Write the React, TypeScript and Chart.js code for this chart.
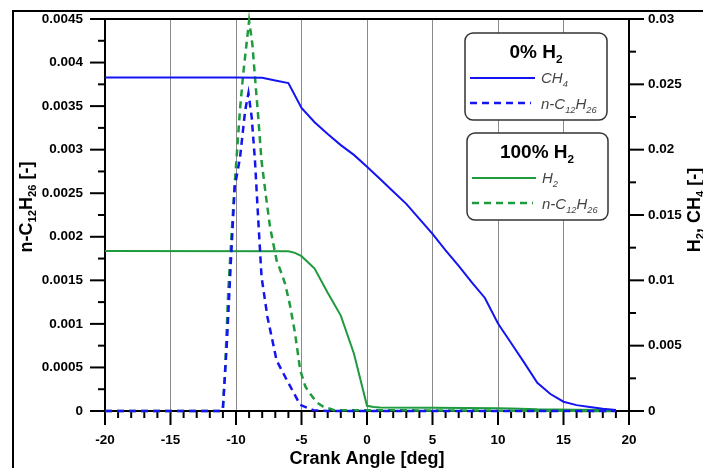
import React, { useEffect, useRef } from "react";
import { Chart, registerables } from "chart.js";

Chart.register(...registerables);

const FAMILY = '"Liberation Sans", Arial, sans-serif';
const BLUE = "#1414f2";
const GREEN = "#1f9a3d";

// CH4 mass fraction, 0% H2 case (right axis)
const ch4Angles = [-20, -10, -8, -7, -6, -5, -4, -3, -2, -1, 0, 1, 2, 3, 4, 5, 6, 7, 8, 9, 10, 11, 12, 13, 14, 15, 16, 17, 18, 19];
const ch4Values = [0.02552, 0.02552, 0.0255, 0.0253, 0.0251, 0.0232, 0.0221, 0.0212, 0.02035, 0.0196, 0.0187, 0.01775, 0.0168, 0.01585, 0.0147, 0.01356, 0.0123, 0.0111, 0.00985, 0.00865, 0.0067, 0.0052, 0.0037, 0.00216, 0.0013, 0.00071, 0.00045, 0.0003, 0.00017, 0.00008];

// H2 mass fraction, 100% H2 case (right axis)
const h2Angles = [-20, -6, -5.5, -5, -4, -3, -2, -1, 0, 0.5, 1, 5, 10, 11, 13, 16, 19];
const h2Values = [0.01224, 0.01222, 0.0121, 0.01185, 0.0109, 0.00905, 0.0073, 0.0044, 0.0004, 0.0003, 0.00027, 0.00024, 0.00022, 0.0002, 0.00013, 0.0001, 0.00008];

// n-C12H26, 0% H2 case (left axis)
const dodecane0Angles = [-20, -11.1, -11, -10.7, -10.4, -10.1, -9.7, -9.3, -9.05, -8.8, -8.55, -8.3, -8.05, -7.6, -6.9, -6.1, -5.1, -4.1, -3, 19];
const dodecane0Values = [0, 0, 0.00003, 0.00077, 0.00169, 0.00257, 0.0029, 0.00345, 0.00365, 0.00337, 0.00287, 0.00219, 0.00154, 0.00108, 0.00058, 0.00035, 0.00007, 0.00001, 0, 0];

// n-C12H26, 100% H2 case (left axis)
const dodecane100Angles = [-20, -11.1, -11, -10.85, -10.6, -10.35, -10.1, -9.9, -9.7, -9.45, -9.2, -9.0, -8.75, -8.55, -8.3, -8.05, -7.7, -7.4, -6.9, -6.6, -6.25, -5.9, -5.5, -5.1, -4.7, -4.35, -3.85, -3.35, -2.5, 19];
const dodecane100Values = [0, 0, 0.00003, 0.0004, 0.00135, 0.002, 0.0026, 0.00303, 0.00345, 0.00387, 0.00421, 0.00448, 0.00421, 0.00383, 0.00337, 0.00287, 0.00245, 0.00211, 0.00173, 0.00161, 0.00146, 0.00123, 0.0009, 0.00047, 0.00028, 0.0002, 0.0001, 0.00005, 0.00001, 0];

// Tick values
const xTicks = [-20, -15, -10, -5, 0, 5, 10, 15, 20];
const xMinorStep = 1;
const leftTicks = [0, 0.0005, 0.001, 0.0015, 0.002, 0.0025, 0.003, 0.0035, 0.004, 0.0045];
const rightTicks = [0, 0.005, 0.01, 0.015, 0.02, 0.025, 0.03];

type Seg = { t: string; sub?: boolean };

function drawRich(
  ctx: CanvasRenderingContext2D,
  segs: Seg[],
  x: number,
  y: number,
  size: number,
  style: string,
  align: "left" | "center",
  color: string
) {
  const fontFor = (s: number) => `${style} ${s}px ${FAMILY}`;
  let w = 0;
  for (const s of segs) {
    ctx.font = fontFor(s.sub ? size * 0.62 : size);
    w += ctx.measureText(s.t).width;
  }
  let cx = align === "center" ? x - w / 2 : x;
  ctx.fillStyle = color;
  ctx.textAlign = "left";
  ctx.textBaseline = "alphabetic";
  for (const s of segs) {
    const sz = s.sub ? size * 0.62 : size;
    ctx.font = fontFor(sz);
    ctx.fillText(s.t, cx, s.sub ? y + size * 0.24 : y);
    cx += ctx.measureText(s.t).width;
  }
}

function pts(xs: number[], ys: number[]) {
  return xs.map((x, i) => ({ x, y: ys[i] }));
}

const axesPlugin = {
  id: "customAxes",
  beforeDatasetsDraw(chart: any) {
    const { ctx, chartArea, scales } = chart;
    const { left, right, top, bottom } = chartArea;
    const ln = (x1: number, y1: number, x2: number, y2: number) => {
      ctx.beginPath();
      ctx.moveTo(x1, y1);
      ctx.lineTo(x2, y2);
      ctx.stroke();
    };
    ctx.save();
    ctx.strokeStyle = "#000";
    ctx.lineWidth = 2;
    ctx.lineCap = "butt";
    ln(left, top - 1, left, bottom + 14);
    ln(right, top - 1, right, bottom + 14);
    ln(left - 15, bottom, right + 15, bottom);
    ln(left - 15, top, right + 15, top);
    const xs = scales.x;
    for (let v = xTicks[0]; v <= xTicks[xTicks.length - 1]; v += xMinorStep) {
      const px = xs.getPixelForValue(v);
      const major = xTicks.includes(v);
      ln(px, bottom, px, bottom + (major ? 14 : 7));
    }
    const yl = scales.yL;
    for (let i = 0; i < leftTicks.length; i++) {
      const py = yl.getPixelForValue(leftTicks[i]);
      ln(left - 15, py, left, py);
      if (i < leftTicks.length - 1) {
        const pm = yl.getPixelForValue((leftTicks[i] + leftTicks[i + 1]) / 2);
        ln(left - 7, pm, left, pm);
      }
    }
    const yr = scales.yR;
    for (let i = 0; i < rightTicks.length; i++) {
      const py = yr.getPixelForValue(rightTicks[i]);
      ln(right, py, right + 15, py);
      if (i < rightTicks.length - 1) {
        const pm = yr.getPixelForValue((rightTicks[i] + rightTicks[i + 1]) / 2);
        ln(right, pm, right + 7, pm);
      }
    }
    ctx.restore();
  },
  afterDraw(chart: any) {
    const { ctx, chartArea } = chart;
    const { left, right } = chartArea;
    ctx.save();
    // outer frame
    ctx.strokeStyle = "#000";
    ctx.lineWidth = 2;
    ctx.beginPath();
    ctx.moveTo(13, 470);
    ctx.lineTo(13, 11);
    ctx.lineTo(705, 11);
    ctx.stroke();

    // axis titles
    drawRich(ctx, [{ t: "Crank Angle [deg]" }], (left + right) / 2, 464, 18, "bold", "center", "#000");
    ctx.save();
    ctx.translate(32, 207);
    ctx.rotate(-Math.PI / 2);
    drawRich(ctx, [{ t: "n-C" }, { t: "12", sub: true }, { t: "H" }, { t: "26", sub: true }, { t: " [-]" }], 0, 0, 18, "bold", "center", "#000");
    ctx.restore();
    ctx.save();
    ctx.translate(700, 210);
    ctx.rotate(-Math.PI / 2);
    drawRich(ctx, [{ t: "H" }, { t: "2", sub: true }, { t: ", CH" }, { t: "4", sub: true }, { t: " [-]" }], 0, 0, 18, "bold", "center", "#000");
    ctx.restore();

    // legend boxes
    const box = (x1: number, y1: number, x2: number, y2: number) => {
      const r = 8;
      ctx.beginPath();
      ctx.moveTo(x1 + r, y1);
      ctx.arcTo(x2, y1, x2, y2, r);
      ctx.arcTo(x2, y2, x1, y2, r);
      ctx.arcTo(x1, y2, x1, y1, r);
      ctx.arcTo(x1, y1, x2, y1, r);
      ctx.closePath();
      ctx.fillStyle = "#fff";
      ctx.fill();
      ctx.strokeStyle = "#333";
      ctx.lineWidth = 1.5;
      ctx.stroke();
    };
    const sample = (x1: number, x2: number, y: number, color: string, dash: number[], w: number) => {
      ctx.save();
      ctx.strokeStyle = color;
      ctx.lineWidth = w;
      ctx.setLineDash(dash);
      ctx.beginPath();
      ctx.moveTo(x1, y);
      ctx.lineTo(x2, y);
      ctx.stroke();
      ctx.restore();
    };
    box(465, 33, 607, 120);
    drawRich(ctx, [{ t: "0% H" }, { t: "2", sub: true }], 536, 58, 19, "bold", "center", "#000");
    sample(470, 535, 78, BLUE, [], 2);
    drawRich(ctx, [{ t: "CH" }, { t: "4", sub: true }], 541, 83, 15, "italic", "left", "#444");
    sample(470, 531, 103, BLUE, [7, 5], 2.5);
    drawRich(ctx, [{ t: "n-C" }, { t: "12", sub: true }, { t: "H" }, { t: "26", sub: true }], 541, 109, 15, "italic", "left", "#444");

    box(467, 133, 608, 220);
    drawRich(ctx, [{ t: "100% H" }, { t: "2", sub: true }], 537, 158, 19, "bold", "center", "#000");
    sample(472, 536, 178, GREEN, [], 2);
    drawRich(ctx, [{ t: "H" }, { t: "2", sub: true }], 542, 183, 15, "italic", "left", "#444");
    sample(472, 533, 203, GREEN, [7, 5], 2.5);
    drawRich(ctx, [{ t: "n-C" }, { t: "12", sub: true }, { t: "H" }, { t: "26", sub: true }], 542, 209, 15, "italic", "left", "#444");
    ctx.restore();
  },
};

const fmt = (v: any) => String(+Number(v).toFixed(6));
const tickFont = { family: FAMILY, size: 13.5, weight: "bold" as const };

export default function App() {
  const ref = useRef<HTMLCanvasElement | null>(null);
  useEffect(() => {
    if (!ref.current) return;
    const chart = new Chart(ref.current, {
      type: "line",
      data: {
        datasets: [
          { label: "CH4", data: pts(ch4Angles, ch4Values), yAxisID: "yR", borderColor: BLUE, borderWidth: 2, pointRadius: 0, tension: 0, clip: false } as any,
          { label: "n-C12H26 (0% H2)", data: pts(dodecane0Angles, dodecane0Values), yAxisID: "yL", borderColor: BLUE, borderWidth: 2.5, borderDash: [7, 5], pointRadius: 0, tension: 0, clip: false } as any,
          { label: "H2", data: pts(h2Angles, h2Values), yAxisID: "yR", borderColor: GREEN, borderWidth: 2, pointRadius: 0, tension: 0, clip: false } as any,
          { label: "n-C12H26 (100% H2)", data: pts(dodecane100Angles, dodecane100Values), yAxisID: "yL", borderColor: GREEN, borderWidth: 2.5, borderDash: [7, 5], pointRadius: 0, tension: 0, clip: false } as any,
        ],
      },
      options: {
        responsive: false,
        maintainAspectRatio: false,
        animation: false,
        devicePixelRatio: 1,
        layout: { padding: { top: 19, left: 0, right: 0, bottom: 0 } },
        plugins: { legend: { display: false }, tooltip: { enabled: false } },
        scales: {
          x: {
            type: "linear",
            min: -20,
            max: 20,
            afterBuildTicks: (s: any) => { s.ticks = xTicks.map((v) => ({ value: v })); },
            afterFit: (s: any) => { s.height = 57; s.paddingLeft = 0; s.paddingRight = 0; },
            ticks: { font: tickFont, color: "#000", padding: 21, callback: fmt, maxRotation: 0, autoSkip: false },
            grid: { color: "#8a8a8a", lineWidth: 1, drawTicks: false },
            border: { display: false },
          },
          yL: {
            type: "linear",
            position: "left",
            min: 0,
            max: 0.0045,
            afterBuildTicks: (s: any) => { s.ticks = leftTicks.map((v) => ({ value: v })); },
            afterFit: (s: any) => { s.width = 105; s.paddingTop = 0; s.paddingBottom = 0; },
            ticks: { font: tickFont, color: "#000", padding: 22, callback: fmt, autoSkip: false },
            grid: { display: false, drawTicks: false },
            border: { display: false },
          },
          yR: {
            type: "linear",
            position: "right",
            min: 0,
            max: 0.03,
            afterBuildTicks: (s: any) => { s.ticks = rightTicks.map((v) => ({ value: v })); },
            afterFit: (s: any) => { s.width = 74; s.paddingTop = 0; s.paddingBottom = 0; },
            ticks: { font: tickFont, color: "#000", padding: 19, callback: fmt, autoSkip: false },
            grid: { display: false, drawTicks: false },
            border: { display: false },
          },
        },
      } as any,
      plugins: [axesPlugin],
    });
    return () => chart.destroy();
  }, []);
  return (
    <div style={{ position: "absolute", left: 0, top: 0, width: 703, height: 468, background: "#fff", overflow: "hidden" }}>
      <canvas ref={ref} width={703} height={468} style={{ display: "block", width: 703, height: 468 }} />
    </div>
  );
}
